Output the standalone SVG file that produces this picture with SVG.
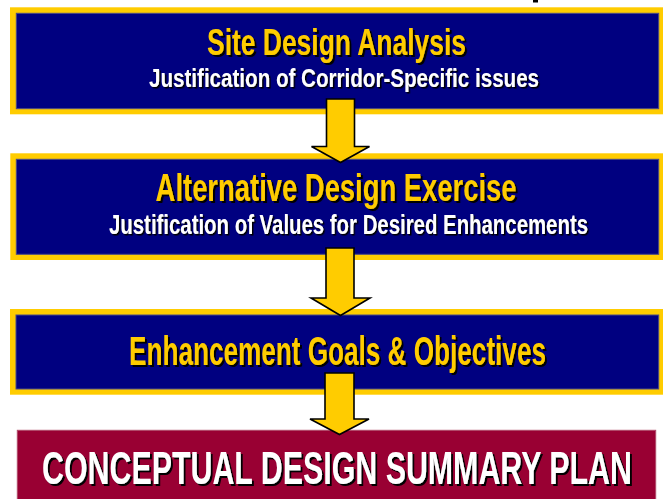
<svg xmlns="http://www.w3.org/2000/svg" width="663" height="499" viewBox="0 0 663 499">
<defs>
<filter id="shadow2" x="-5%" y="-20%" width="110%" height="140%">
<feDropShadow dx="3" dy="2" stdDeviation="0" flood-color="#000" flood-opacity="1"/>
</filter>
<filter id="shadow1" x="-5%" y="-20%" width="110%" height="140%">
<feDropShadow dx="2" dy="1.5" stdDeviation="0" flood-color="#000" flood-opacity="1"/>
</filter>
</defs>
<style>
.frame{fill:#FFCC00}
.panel{fill:#000080;stroke:#4a4a86;stroke-width:1}
.final{fill:#990033;stroke:#b04a6a;stroke-width:1}
.arrow{fill:#FFCC00;stroke:#000;stroke-width:1.6;stroke-linejoin:miter}
text{font-family:"Liberation Sans",Arial,sans-serif;font-weight:bold}
.title{fill:#FFCC00;filter:url(#shadow2)}
.sub{fill:#fff;filter:url(#shadow1)}
.big{fill:#fff;filter:url(#shadow2)}
</style>
<rect x="533" y="0" width="5" height="2.5" fill="#000"/>
<g id="site-design-analysis">
<rect class="frame" x="10" y="7.3" width="660" height="107"/>
<rect class="panel" x="16.3" y="13.3" width="642.4" height="95.4"/>
<text class="title" transform="translate(207,55) scale(0.71,1)" font-size="37" textLength="364.8" lengthAdjust="spacingAndGlyphs">Site Design Analysis</text>
<text class="sub" transform="translate(149,87.3) scale(0.777,1)" font-size="26.5" textLength="502" lengthAdjust="spacingAndGlyphs">Justification of Corridor-Specific issues</text>
</g>
<g id="alternative-design-exercise">
<rect class="frame" x="10.3" y="153.3" width="660" height="106.7"/>
<rect class="panel" x="16.3" y="159.3" width="642.4" height="95"/>
<text class="title" transform="translate(155.6,201) scale(0.702,1)" font-size="39" textLength="514.2" lengthAdjust="spacingAndGlyphs">Alternative Design Exercise</text>
<text class="sub" transform="translate(109,234.3) scale(0.726,1)" font-size="28" textLength="659.8" lengthAdjust="spacingAndGlyphs">Justification of Values for Desired Enhancements</text>
</g>
<g id="enhancement-goals">
<rect class="frame" x="10" y="309" width="660" height="85.7"/>
<rect class="panel" x="16" y="315" width="642.7" height="74"/>
<text class="title" transform="translate(129,365) scale(0.654,1)" font-size="40" textLength="637.6" lengthAdjust="spacingAndGlyphs">Enhancement Goals &amp; Objectives</text>
</g>
<g id="conceptual-design-summary-plan">
<rect class="final" x="17.3" y="430.3" width="638.4" height="72"/>
<text class="big" transform="translate(42,484.3) scale(0.644,1)" font-size="47" textLength="916.1" lengthAdjust="spacingAndGlyphs">CONCEPTUAL DESIGN SUMMARY PLAN</text>
</g>
<g id="connectors">
<polygon class="arrow" points="326.5,99 354.5,99 354.5,146.5 369.5,146.5 340.5,162.5 311.5,146.5 326.5,146.5"/>
<polygon class="arrow" points="326,248 354,248 354,298 370,298 340.5,315.5 311,298 326,298"/>
<polygon class="arrow" points="325,373 354,373 354,419 369,419 339.5,434.5 310,419 325,419"/>
</g>
</svg>
